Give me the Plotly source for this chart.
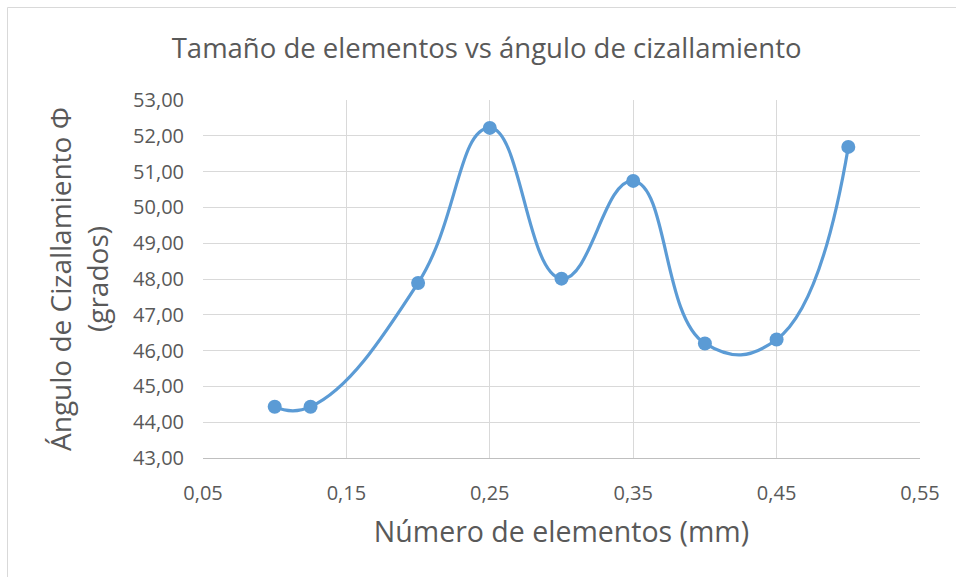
import plotly.graph_objects as go

x_vals = [0.1, 0.125, 0.2, 0.25, 0.3, 0.35, 0.4, 0.45, 0.5]
y_vals = [44.43, 44.43, 47.89, 52.22, 48.01, 50.74, 46.20, 46.31, 51.69]
x_ticks = [0.05, 0.15, 0.25, 0.35, 0.45, 0.55]
y_ticks = [43, 44, 45, 46, 47, 48, 49, 50, 51, 52, 53]

title_text = "Tamaño de elementos vs ángulo de cizallamiento"
x_title = "Número de elementos (mm)"
y_title = "Ángulo de Cizallamiento Φ<br>(grados)"

FONT = "Open Sans"
GREY = "#595959"
W, H = 956, 577
L, R, T, B = 203, 920, 100, 458

fig = go.Figure()
fig.add_trace(go.Scatter(
    x=x_vals, y=y_vals, mode="lines+markers",
    line=dict(color="#5b9bd5", width=3.2, shape="spline", smoothing=1.3),
    marker=dict(color="#5b9bd5", size=14),
    showlegend=False, hoverinfo="skip"))

def px2x(p):
    return (p - L) / (R - L)

def py2y(p):
    return (B - p) / (B - T)

fig.update_layout(
    width=W, height=H,
    margin=dict(l=L, r=W - R, t=T, b=H - B, pad=0),
    paper_bgcolor="white", plot_bgcolor="white",
    separators=",.",
    font=dict(family=FONT, color=GREY),
    title=dict(text=title_text, x=0.509, xanchor="center", y=1 - 48 / H, yanchor="middle",
               font=dict(family=FONT, size=27.5, color=GREY)),
    xaxis=dict(range=[0.05, 0.55], tickvals=x_ticks, tickformat=".2f",
               showgrid=True, gridcolor="#d9d9d9", gridwidth=1,
               zeroline=False, showline=True, linecolor="#bfbfbf", linewidth=1,
               ticks="", ticklen=0, ticklabelstandoff=17,
               tickfont=dict(family=FONT, size=20, color=GREY),
               title=dict(text=x_title, font=dict(family=FONT, size=28.5, color=GREY), standoff=17)),
    yaxis=dict(range=[43, 53], tickvals=y_ticks, tickformat=".2f",
               showgrid=True, gridcolor="#d9d9d9", gridwidth=1,
               zeroline=False, showline=False, ticks="", ticklabelstandoff=18,
               tickfont=dict(family=FONT, size=20, color=GREY),
               title=dict(text=y_title, font=dict(family=FONT, size=28, color=GREY), standoff=16)),
    shapes=[dict(type="rect", xref="paper", yref="paper",
                 x0=px2x(7.5), x1=px2x(980), y0=py2y(600), y1=py2y(7.5),
                 line=dict(color="#d9d9d9", width=1), layer="below")],
)

fig.write_html("out.html")
